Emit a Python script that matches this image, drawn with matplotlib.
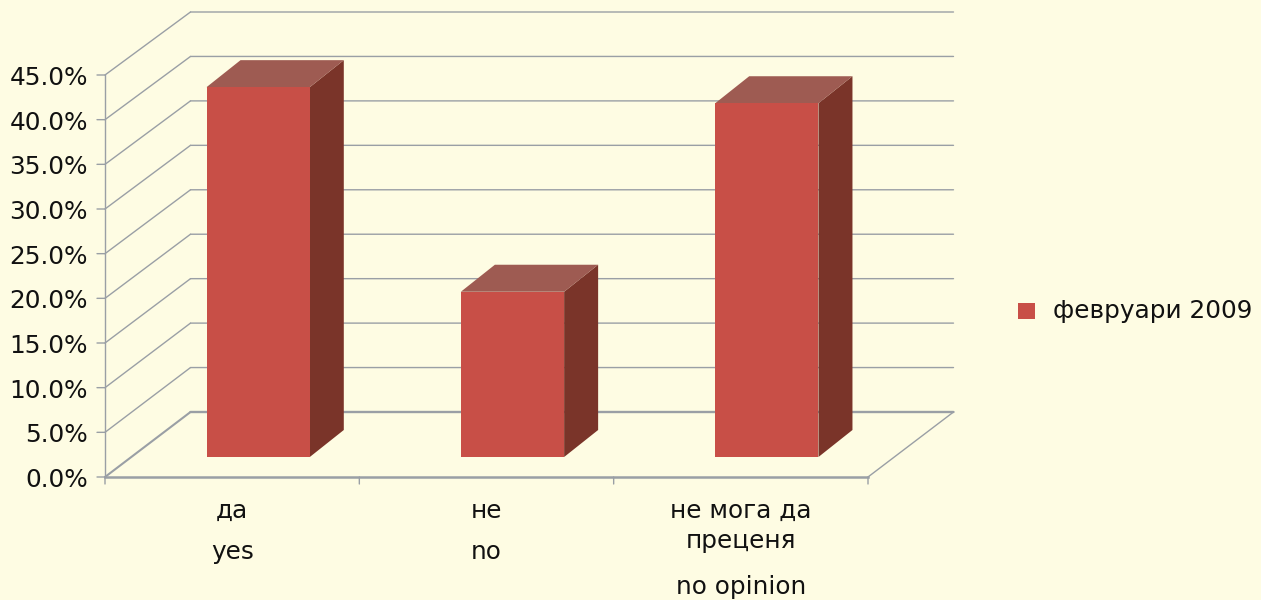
import matplotlib
matplotlib.use("Agg")
import matplotlib.pyplot as plt
from matplotlib.patches import Polygon, Rectangle
from matplotlib.transforms import Affine2D

categories = ["да\nyes", "не\nno", "не мога да\nпреценя\n\nno opinion"]
values = [41.4, 18.5, 39.6]
y_ticks = [0, 5, 10, 15, 20, 25, 30, 35, 40, 45]
y_labels = ["0.0%", "5.0%", "10.0%", "15.0%", "20.0%", "25.0%", "30.0%", "35.0%", "40.0%", "45.0%"]
series_name = "февруари 2009"

W, H = 1261, 600
BG = "#FEFCE3"
GRID = "#9A9FA5"
FRONT, SIDE, TOP = "#C84F47", "#7A3429", "#9E5B52"
TEXT = "#111111"
plt.rcParams["font.family"] = ["DejaVu Sans"]
FS = 17.8

fig = plt.figure(figsize=(W / 100, H / 100), dpi=100, facecolor=BG)
ax = fig.add_axes([105 / W, 1 - 477 / H, (868 - 105) / W, (477 - 75) / H])
ax.set_xlim(-0.5, 2.5)
ax.set_ylim(0, 45)
ax.axis("off")

def shift(dx, dy):
    return ax.transData + Affine2D().translate(dx, dy)

def seg(a, b, lw):
    ax.annotate("", xy=b, xytext=a, xycoords="figure pixels", textcoords="figure pixels",
                annotation_clip=False, zorder=1,
                arrowprops=dict(arrowstyle="-", color=GRID, lw=lw, shrinkA=0, shrinkB=0))

DX, DY = 85.5, 65
BACK_SCALE = 400 / 402   # back wall appears slightly shorter than the front plane

for v, lab in zip(y_ticks, y_labels):
    a = ax.transData.transform((-0.5, v))
    e = ax.transData.transform((2.5, v))
    base = ax.transData.transform((0, 0))[1]
    back_y = base + (a[1] - base) * BACK_SCALE + DY
    lw = 1.7 if v == 0 else 1.0
    seg((a[0] + DX, back_y), (e[0] + DX, back_y), lw)
    seg(a, (a[0] + DX, back_y), 1.0 if v else 1.5)
    seg((a[0] - 8, a[1]), a, 1.0)
    ax.text(a[0] - 17, a[1] - 3, lab, transform=None, ha="right", va="center",
            fontsize=FS, color=TEXT, clip_on=False)

ax.plot([-0.5, -0.5], [0, 45], color=GRID, lw=1.0, clip_on=False, zorder=2)
ax.plot([-0.5, 2.5], [0, 0], color=GRID, lw=1.8, clip_on=False, zorder=2)
r = ax.transData.transform((2.5, 0))
seg(r, (r[0] + DX, r[1] + DY), 1.0)
for b in [-0.5, 0.5, 1.5, 2.5]:
    p = ax.transData.transform((b, 0))
    seg((p[0], p[1] - 7), p, 1.0)

OX, OY = 26, 20
BX, BY = 34, 27
HALF = 0.203
t_front = shift(OX, OY)
for i, v in enumerate(values):
    x0, x1 = i - HALF, i + HALF
    ax.bar(i, v, width=2 * HALF, color=FRONT, transform=t_front, clip_on=False, zorder=5)
    f1 = t_front.transform((x1, 0))
    g0 = t_front.transform((x0, v)); g1 = t_front.transform((x1, v))
    side = [f1, (f1[0] + BX, f1[1] + BY), (g1[0] + BX, g1[1] + BY), g1]
    top = [g0, g1, (g1[0] + BX, g1[1] + BY), (g0[0] + BX, g0[1] + BY)]
    ax.add_patch(Polygon(side, closed=True, transform=None, facecolor=SIDE, edgecolor="none", zorder=4, clip_on=False))
    ax.add_patch(Polygon(top, closed=True, transform=None, facecolor=TOP, edgecolor="none", zorder=4, clip_on=False))

line_y = [[511, 552], [511, 552], [511, 541, 587]]
for i, lab in enumerate(categories):
    px = ax.transData.transform((i, 0))[0]
    lines = [l for l in lab.split("\n") if l]
    for l, y in zip(lines, line_y[i]):
        ax.text(px, H - y, l, transform=None, ha="center", va="center", fontsize=FS, color=TEXT, clip_on=False)

fig.patches.append(Rectangle((1018 / W, 1 - 319 / H), 17 / W, 16 / H, transform=fig.transFigure,
                             facecolor=FRONT, edgecolor="none"))
fig.text(1053 / W, 1 - 311 / H, series_name, ha="left", va="center", fontsize=FS, color=TEXT)

fig.savefig("out.png", dpi=100, facecolor=BG)
